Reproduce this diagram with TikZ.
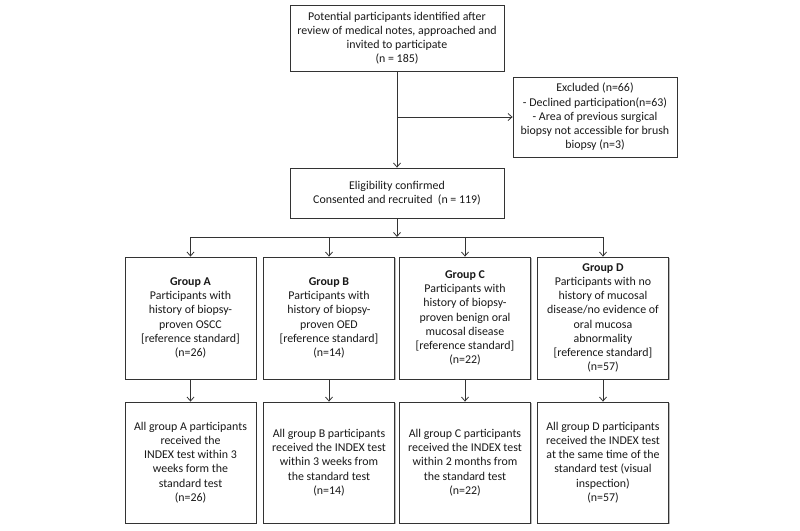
\documentclass[tikz,border=0pt]{standalone}
\usepackage{fontspec}
\setmainfont{Carlito}
\usetikzlibrary{arrows.meta,shadows}

\begin{document}
\begin{tikzpicture}[x=1pt, y=-1pt, >={Straight Barb[length=4pt,width=7pt]},
  box/.style={draw=black!80, fill=white, line width=0.8pt, align=center,
    inner sep=2pt, font=\fontsize{11.9}{14.2}\selectfont, text=black!90,
    drop shadow={shadow xshift=1.2pt, shadow yshift=-1.2pt, fill=black!45, opacity=0.6}},
  link/.style={draw=black!80, line width=0.8pt}]
\useasboundingbox (0,0) rectangle (800,530);

% top boxes
\node[box, minimum width=214pt, minimum height=66pt] (pot) at (397,38)
  {Potential participants identified after\\review of medical notes, approached and\\invited to participate\\(n = 185)};
\node[box, minimum width=164pt, minimum height=80pt] (excl) at (595,117)
  {Excluded (n=66)\\- Declined participation(n=63)\\- Area of previous surgical\\biopsy not accessible for brush\\biopsy (n=3)};
\node[box, minimum width=214pt, minimum height=50pt] (elig) at (397,193)
  {Eligibility confirmed\\Consented and recruited\ \ (n = 119)};

% group boxes
\node[box, minimum width=131pt, minimum height=122pt] (ga) at (190.5,318)
  {\textbf{Group A}\\Participants with\\history of biopsy-\\proven OSCC\\{[}reference standard{]}\\(n=26)};
\node[box, minimum width=131pt, minimum height=122pt] (gb) at (329,318)
  {\textbf{Group B}\\Participants with\\history of biopsy-\\proven OED\\{[}reference standard{]}\\(n=14)};
\node[box, minimum width=131pt, minimum height=122pt] (gc) at (465,318)
  {\textbf{Group C}\\Participants with\\history of biopsy-\\proven benign oral\\mucosal disease\\{[}reference standard{]}\\(n=22)};
\node[box, minimum width=131pt, minimum height=122pt] (gd) at (603,318)
  {\textbf{Group D}\\Participants with no\\history of mucosal\\disease/no evidence of\\oral mucosa\\abnormality\\{[}reference standard{]}\\(n=57)};

% index test boxes
\node[box, minimum width=131pt, minimum height=121pt] (ta) at (190.5,462.5)
  {All group A participants\\received the\\INDEX test within 3\\weeks form the\\standard test\\(n=26)};
\node[box, minimum width=131pt, minimum height=121pt] (tb) at (329,462.5)
  {All group B participants\\received the INDEX test\\within 3 weeks from\\the standard test\\(n=14)};
\node[box, minimum width=131pt, minimum height=121pt] (tc) at (465,462.5)
  {All group C participants\\received the INDEX test\\within 2 months from\\the standard test\\(n=22)};
\node[box, minimum width=131pt, minimum height=121pt] (td) at (603,462.5)
  {All group D participants\\received the INDEX test\\at the same time of the\\standard test (visual\\inspection)\\(n=57)};

% connectors
\coordinate (branch) at (397,117);
\coordinate (split) at (397,237);
\draw[link, ->] (pot) -- (elig);
\draw[link, ->] (branch) -- (excl.west);
\draw[link, ->] (elig) -- (split);
\draw[link] (ga.north |- split) -- (gd.north |- split);
\foreach \g in {ga,gb,gc,gd}
  \draw[link, ->] (\g.north |- split) -- (\g.north);
\draw[link, ->] (ga) -- (ta);
\draw[link, ->] (gb) -- (tb);
\draw[link, ->] (gc) -- (tc);
\draw[link, ->] (gd) -- (td);
\end{tikzpicture}
\end{document}
